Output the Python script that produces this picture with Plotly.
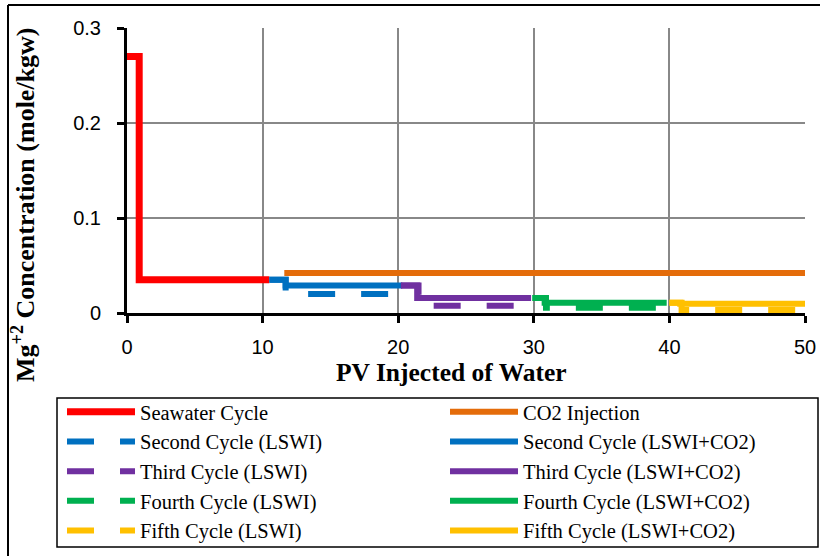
import plotly.graph_objects as go

# ---- data (PV injected, Mg+2 concentration mole/kgw) ----
seawater_x = [0, 0.9, 10.5]
seawater_y = [0.27, 0.035, 0.035]

co2_x = [11.6, 50]
co2_y = [0.042, 0.042]

second_lswi_x = [10.5, 11.7, 20.3]
second_lswi_y = [0.035, 0.020, 0.020]
second_co2_x = [10.5, 11.7, 20.3]
second_co2_y = [0.035, 0.029, 0.029]

third_lswi_x = [20.2, 21.5, 29.8]
third_lswi_y = [0.029, 0.0077, 0.0077]
third_co2_x = [20.2, 21.4, 29.8]
third_co2_y = [0.029, 0.0157, 0.0157]

fourth_lswi_x = [29.9, 30.9, 39.8]
fourth_lswi_y = [0.0157, 0.0056, 0.0056]
fourth_co2_x = [29.9, 30.8, 39.8]
fourth_co2_y = [0.0157, 0.0108, 0.0108]

fifth_lswi_x = [40.0, 40.9, 50]
fifth_lswi_y = [0.0108, 0.0032, 0.0032]
fifth_co2_x = [40.0, 40.8, 50]
fifth_co2_y = [0.0108, 0.0098, 0.0098]

x_ticks = [0, 10, 20, 30, 40, 50]
y_ticks = [0, 0.1, 0.2, 0.3]
y_tick_labels = ["0", "0.1", "0.2", "0.3"]

series = [
    ("Seawater Cycle", seawater_x, seawater_y, "#FF0000", "solid", 7),
    ("CO2 Injection", co2_x, co2_y, "#E46C0A", "solid", 6),
    ("Second Cycle (LSWI)", second_lswi_x, second_lswi_y, "#0070C0", "dash", 6),
    ("Second Cycle (LSWI+CO2)", second_co2_x, second_co2_y, "#0070C0", "solid", 6),
    ("Third Cycle (LSWI)", third_lswi_x, third_lswi_y, "#7030A0", "dash", 6),
    ("Third Cycle (LSWI+CO2)", third_co2_x, third_co2_y, "#7030A0", "solid", 6),
    ("Fourth Cycle (LSWI)", fourth_lswi_x, fourth_lswi_y, "#00B050", "dash", 6),
    ("Fourth Cycle (LSWI+CO2)", fourth_co2_x, fourth_co2_y, "#00B050", "solid", 6),
    ("Fifth Cycle (LSWI)", fifth_lswi_x, fifth_lswi_y, "#FFC000", "dash", 6),
    ("Fifth Cycle (LSWI+CO2)", fifth_co2_x, fifth_co2_y, "#FFC000", "solid", 6),
]

fig = go.Figure()
for name, xs, ys, color, style, lw in series:
    dash = "27px,26px" if style == "dash" else "solid"
    fig.add_trace(go.Scatter(
        x=xs, y=ys, name=name, mode="lines",
        line=dict(color=color, width=lw, dash=dash, shape="hv"),
    ))

W, H = 827, 556
L, R, T, B = 127, 22, 28, 243
pw, ph = W - L - R, H - T - B

def px_x(p):
    return (p - L) / pw

def px_y(p):
    return (H - B - p) / ph

serif = "Liberation Serif, Times New Roman, serif"
sans = "Liberation Sans, Arial, sans-serif"

fig.update_layout(
    width=W, height=H,
    margin=dict(l=L, r=R, t=T, b=B, autoexpand=False),
    paper_bgcolor="white", plot_bgcolor="white",
    showlegend=True,
    legend=dict(
        orientation="h",
        x=px_x(62), y=px_y(392), xanchor="left", yanchor="top",
        font=dict(family=serif, size=20.5, color="black"),
        bgcolor="rgba(0,0,0,0)", borderwidth=0,
        itemwidth=68,
        entrywidth=300, entrywidthmode="pixels",
        traceorder="normal",
    ),
    xaxis=dict(
        range=[0, 50], tickvals=x_ticks,
        showgrid=True, gridcolor="#888888", gridwidth=1.5,
        showline=True, linecolor="black", linewidth=3,
        ticks="outside", ticklen=7, tickwidth=3, tickcolor="black",
        tickfont=dict(family=sans, size=20, color="black"),
        ticklabelstandoff=7,
        zeroline=False,
    ),
    yaxis=dict(
        range=[0, 0.3], tickvals=y_ticks, ticktext=y_tick_labels,
        showgrid=True, gridcolor="#888888", gridwidth=1.5,
        showline=True, linecolor="black", linewidth=3,
        ticks="outside", ticklen=7, tickwidth=3, tickcolor="black",
        tickfont=dict(family=sans, size=20, color="black"),
        ticklabelstandoff=12,
        zeroline=False,
    ),
    annotations=[
        dict(text="<b>PV Injected of Water</b>", xref="paper", yref="paper",
             x=px_x(451), y=px_y(372), xanchor="center", yanchor="middle",
             showarrow=False, font=dict(family=serif, size=25.5, color="black")),
        dict(text="<b>Mg<sup>+2</sup> Concentration (mole/kgw)</b>", xref="paper", yref="paper",
             x=px_x(24), y=px_y(205), xanchor="center", yanchor="middle",
             textangle=-90, showarrow=False,
             font=dict(family=serif, size=26, color="black")),
    ],
    shapes=[
        dict(type="line", xref="paper", yref="paper",
             x0=px_x(8), x1=px_x(820), y0=px_y(5), y1=px_y(5),
             line=dict(color="black", width=2)),
        dict(type="line", xref="paper", yref="paper",
             x0=px_x(8), x1=px_x(8), y0=px_y(5), y1=px_y(556),
             line=dict(color="black", width=2)),
        dict(type="rect", xref="paper", yref="paper",
             x0=px_x(57), x1=px_x(818), y0=px_y(398), y1=px_y(547),
             line=dict(color="black", width=1.5), fillcolor="rgba(0,0,0,0)"),
    ],
)

fig.write_html("out.html")
